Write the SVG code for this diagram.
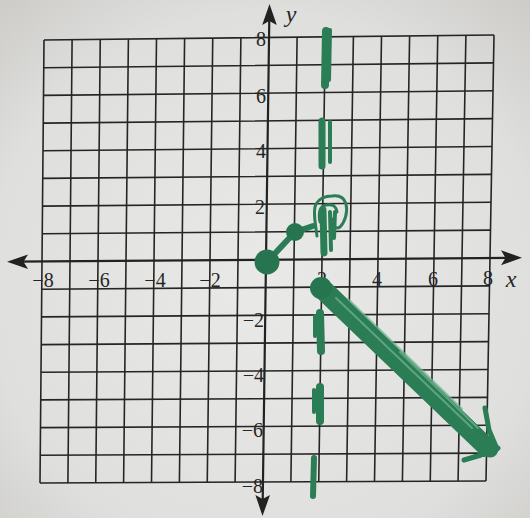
<svg xmlns="http://www.w3.org/2000/svg" width="530" height="518" viewBox="0 0 530 518">
<defs>
<radialGradient id="paper" cx="50%" cy="55%" r="75%">
<stop offset="0" stop-color="#e9e9e7"/>
<stop offset="0.7" stop-color="#dfdfdd"/>
<stop offset="1" stop-color="#cccbc8"/>
</radialGradient>
<style>
.g{stroke:#262525;stroke-width:1.6;fill:none}
.ax{stroke:#222;stroke-width:2.2;fill:none}
.ah{fill:#222}
.t{font-family:"Liberation Serif","Times New Roman",serif;font-size:20px;fill:#262525}
.tm{text-anchor:middle}
.te{text-anchor:end}
.v{font-family:"Liberation Serif","Times New Roman",serif;font-size:24px;font-style:italic;fill:#262525;text-anchor:middle}
.m{stroke:#2a7d55;fill:none;stroke-linecap:round;stroke-linejoin:round}
.md{fill:#277550}
.hl{stroke:#6fb38f;fill:none;stroke-linecap:round;stroke-opacity:0.75}
</style>
</defs>
<rect width="530" height="518" fill="url(#paper)"/>
<g id="grid">
<path class="g" d="M44,40L40,483M72.1,39.7L67.9,482.9M100.25,39.4L95.75,482.75M128.4,39.1L123.6,482.6M156.5,38.75L151.5,482.5M184.6,38.4L179.4,482.4M212.75,38.1L207.25,482.25M240.9,37.8L235.1,482.1M297.1,37.2L290.9,481.9M325.25,36.9L318.75,481.75M353.4,36.6L346.6,481.6M381.5,36.25L374.5,481.5M409.6,35.9L402.4,481.4M437.75,35.6L430.25,481.25M465.9,35.3L458.1,481.1M494,35L486,481"/>
<path class="g" d="M44,40L494,35M43.75,67.7L493.5,62.9M43.5,95.4L493,90.75M43.25,123.1L492.5,118.6M43,150.75L492,146.5M42.75,178.4L491.5,174.4M42.5,206.1L491,202.25M42.25,233.8L490.5,230.1M41.75,289.2L489.5,285.9M41.5,316.9L489,313.75M41.25,344.6L488.5,341.6M41,372.25L488,369.5M40.75,399.9L487.5,397.4M40.5,427.6L487,425.25M40.25,455.3L486.5,453.1M40,483L486,481"/>
</g>
<g id="axes">
<path class="ax" d="M14,261.7L516,257.8"/>
<path class="ah" d="M522,257.7L501,250.2L505.5,257.9L501,265.2Z"/>
<path class="ah" d="M7,261.8L28,254.6L23.5,261.7L28,269Z"/>
<path class="ax" d="M269.4,11L262.6,509"/>
<path class="ah" d="M269.5,4L262.2,25L269.2,21L276.8,25Z"/>
<path class="ah" d="M262.5,516L255.4,495L262.6,499L270,495Z"/>
</g>
<g id="labels">
<text class="t tm" x="43" y="287">−8</text>
<text class="t tm" x="99" y="287">−6</text>
<text class="t tm" x="155" y="287">−4</text>
<text class="t tm" x="210" y="287">−2</text>
<text class="t tm" x="322" y="286">2</text>
<text class="t tm" x="377" y="286">4</text>
<text class="t tm" x="433" y="286">6</text>
<text class="t tm" x="488" y="285">8</text>
<text class="t te" x="266" y="46">8</text>
<text class="t te" x="266" y="103">6</text>
<text class="t te" x="266" y="158">4</text>
<text class="t te" x="265" y="214">2</text>
<text class="t te" x="264" y="327">−2</text>
<text class="t te" x="264" y="382">−4</text>
<text class="t te" x="263" y="437">−6</text>
<text class="t te" x="263" y="493">−8</text>
<text class="v" x="291" y="22">y</text>
<text class="v" x="511" y="287">x</text>
</g>
<g id="asymptote">
<path class="m" stroke-width="8" d="M326,31L325,85"/>
<path class="m" stroke-width="4" d="M330,30L329,80"/>
<path class="m" stroke-width="7" d="M322,121L322,166"/>
<path class="m" stroke-width="4" d="M330,122L330,162"/>
<path class="m" stroke-width="7" d="M323,210L324,253"/>
<path class="m" stroke-width="4" d="M330,212L331,250M335,212L334,238"/>
<path class="m" stroke-width="3" d="M317,236C315,222 313,210 316,204C319,199 325,196 332,196C339,195 344,197 346,204C348,212 345,222 340,227C336,230 332,226 332,219M320,222C318,212 320,206 326,205C331,204 336,205 337,212"/>
<path class="m" stroke-width="8" d="M320,313L321,351"/>
<path class="m" stroke-width="4" d="M315,316L315,336"/>
<path class="m" stroke-width="8" d="M320,387L320,421"/>
<path class="m" stroke-width="4" d="M314,390L314,412"/>
<path class="m" stroke-width="6" d="M314,458L313,496"/>
</g>
<g id="left-piece">
<path class="m" stroke-width="6" d="M267,262L295,232L313,226"/>
<circle class="md" cx="267" cy="262" r="12.5"/>
<circle class="md" cx="295" cy="232" r="9"/>
</g>
<g id="right-piece">
<path class="m" stroke-width="17" d="M324,290L490,449"/>
<path class="m" stroke-width="4" stroke="#1f6b46" d="M330,285L494,444M318,296L484,455"/>
<path class="hl" stroke-width="2" d="M336,298L472,428M348,299L462,409M400,352L478,428"/>
<path class="m" stroke-width="5" d="M485,408L489,430L497,449"/>
<path class="m" stroke-width="5" d="M464,460L481,455L498,448"/>
<circle class="md" cx="321" cy="288" r="11"/>
</g>
</svg>
